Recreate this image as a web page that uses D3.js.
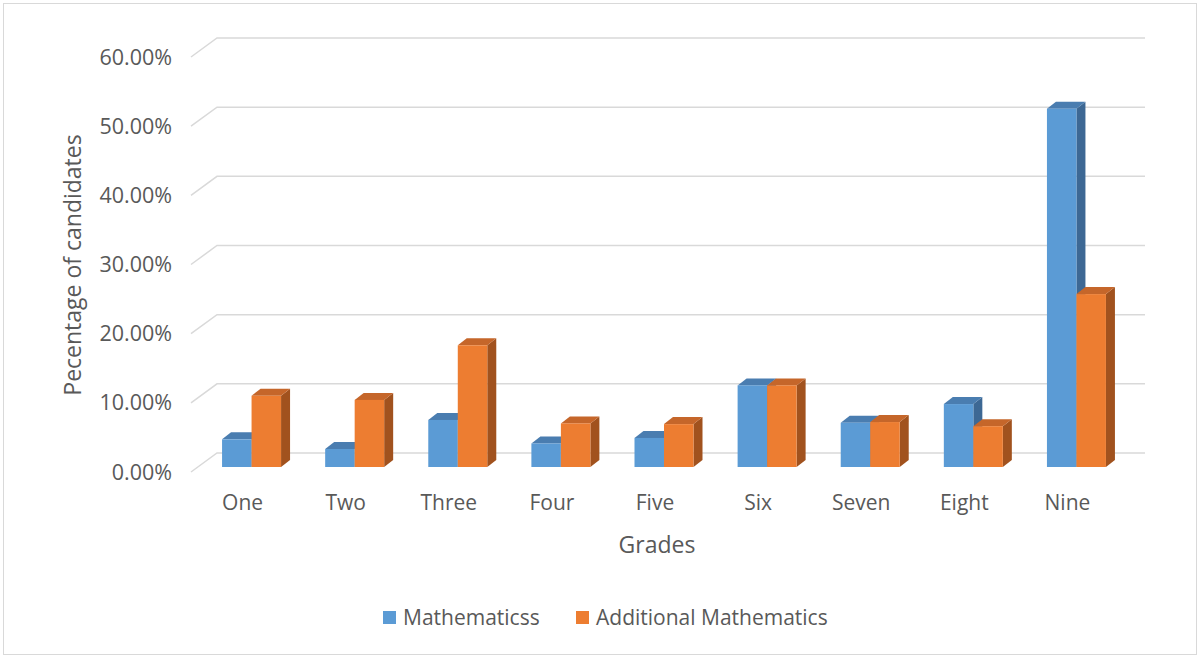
<!DOCTYPE html>
<html>
<head>
<meta charset="utf-8">
<script src="https://cdn.jsdelivr.net/npm/d3@7"></script>
<style>
  body { margin: 0; background: #fff; }
  text { font-family: "Open Sans", Lato, sans-serif; fill: #595959; }
</style>
</head>
<body>
<svg id="chart" width="1199" height="656"></svg>
<script>
let grades = ['One','Two','Three','Four','Five','Six','Seven','Eight','Nine'];
let seriesNames = ['Mathematicss','Additional Mathematics'];
let maths = [0.040, 0.026, 0.068, 0.034, 0.042, 0.118, 0.064, 0.091, 0.518];
let addMaths = [0.103, 0.097, 0.176, 0.063, 0.062, 0.118, 0.065, 0.059, 0.250];
let yTicks = [0, 0.1, 0.2, 0.3, 0.4, 0.5, 0.6];

let colors = {
  'Mathematicss': {front: '#5b9bd5', top: '#4a7db0', side: '#3d6894'},
  'Additional Mathematics': {front: '#ed7d31', top: '#c5662a', side: '#a1521e'}
};

let svg = d3.select('#chart');

// outer frame
svg.append('rect')
  .attr('x', 3.5).attr('y', 3.5)
  .attr('width', 1193).attr('height', 651)
  .attr('fill', 'none').attr('stroke', '#d9d9d9').attr('stroke-width', 1);

// front plane of the floor / wall
let front = {left: 191, right: 1119, bottom: 472, top: 57};
let wallDx = 26, wallDy = -19;       // depth of the side wall
let barDx = 9, barDy = -5;           // bars sit a bit behind the front edge
let depthDx = 9, depthDy = -7;       // bar box depth

let xScale = d3.scaleBand().domain(grades).range([front.left, front.right]);
let yScale = d3.scaleLinear().domain([0, 0.6]).range([front.bottom, front.top]);
let sScale = d3.scaleBand().domain(seriesNames).range([-29.5, 29.5]);

// gridlines: side wall diagonal + back wall line
let grid = svg.append('g').attr('class', 'grid');
grid.selectAll('polyline')
  .data(yTicks)
  .enter()
  .append('polyline')
  .attr('points', d => {
    let y = yScale(d);
    return [[front.left, y], [front.left + wallDx, y + wallDy], [front.right + wallDx, y + wallDy]]
      .map(p => p.join(',')).join(' ');
  })
  .attr('fill', 'none')
  .attr('stroke', '#d9d9d9')
  .attr('stroke-width', 1.5);

// y tick labels
svg.append('g').selectAll('text')
  .data(yTicks)
  .enter()
  .append('text')
  .attr('x', 172)
  .attr('y', d => yScale(d))
  .attr('dy', '0.35em')
  .attr('text-anchor', 'end')
  .style('font-size', '21.5px')
  .text(d => d3.format('.2%')(d));

// category labels
svg.append('g').selectAll('text')
  .data(grades)
  .enter()
  .append('text')
  .attr('x', d => xScale(d) + xScale.bandwidth() / 2)
  .attr('y', 503)
  .attr('dy', '0.35em')
  .attr('text-anchor', 'middle')
  .style('font-size', '21px')
  .text(d => d);

// bars
let rows = [];
grades.forEach((g, i) => {
  rows.push({grade: g, series: seriesNames[0], value: maths[i]});
  rows.push({grade: g, series: seriesNames[1], value: addMaths[i]});
});

function pts(arr) { return arr.map(p => p.join(',')).join(' '); }

let bars = svg.append('g').attr('class', 'bars')
  .selectAll('g')
  .data(rows)
  .enter()
  .append('g');

bars.each(function(d) {
  let g = d3.select(this);
  let x0 = xScale(d.grade) + xScale.bandwidth() / 2 + barDx + sScale(d.series);
  let x1 = x0 + sScale.bandwidth();
  let yb = yScale(0) + barDy;
  let yt = yScale(d.value) + barDy;
  let c = colors[d.series];
  g.append('polygon')
    .attr('points', pts([[x1, yt], [x1 + depthDx, yt + depthDy], [x1 + depthDx, yb + depthDy], [x1, yb]]))
    .attr('fill', c.side);
  g.append('polygon')
    .attr('points', pts([[x0, yt], [x0 + depthDx, yt + depthDy], [x1 + depthDx, yt + depthDy], [x1, yt]]))
    .attr('fill', c.top);
  g.append('rect')
    .attr('x', x0).attr('y', yt)
    .attr('width', x1 - x0).attr('height', yb - yt)
    .attr('fill', c.front);
});

// axis titles
svg.append('text')
  .attr('transform', 'translate(73,265) rotate(-90)')
  .attr('text-anchor', 'middle')
  .attr('dy', '0.35em')
  .style('font-size', '23px')
  .text('Pecentage of candidates');

svg.append('text')
  .attr('x', 657).attr('y', 545)
  .attr('text-anchor', 'middle')
  .attr('dy', '0.35em')
  .style('font-size', '23px')
  .text('Grades');

// legend
let legend = svg.append('g').selectAll('g')
  .data(seriesNames)
  .enter()
  .append('g')
  .attr('transform', (d, i) => `translate(${[383, 576][i]},611)`);
legend.append('rect')
  .attr('width', 13).attr('height', 13)
  .attr('fill', d => colors[d].front);
legend.append('text')
  .attr('x', 20).attr('y', 7)
  .attr('dy', '0.35em')
  .style('font-size', '21px')
  .text(d => d);
</script>
</body>
</html>
